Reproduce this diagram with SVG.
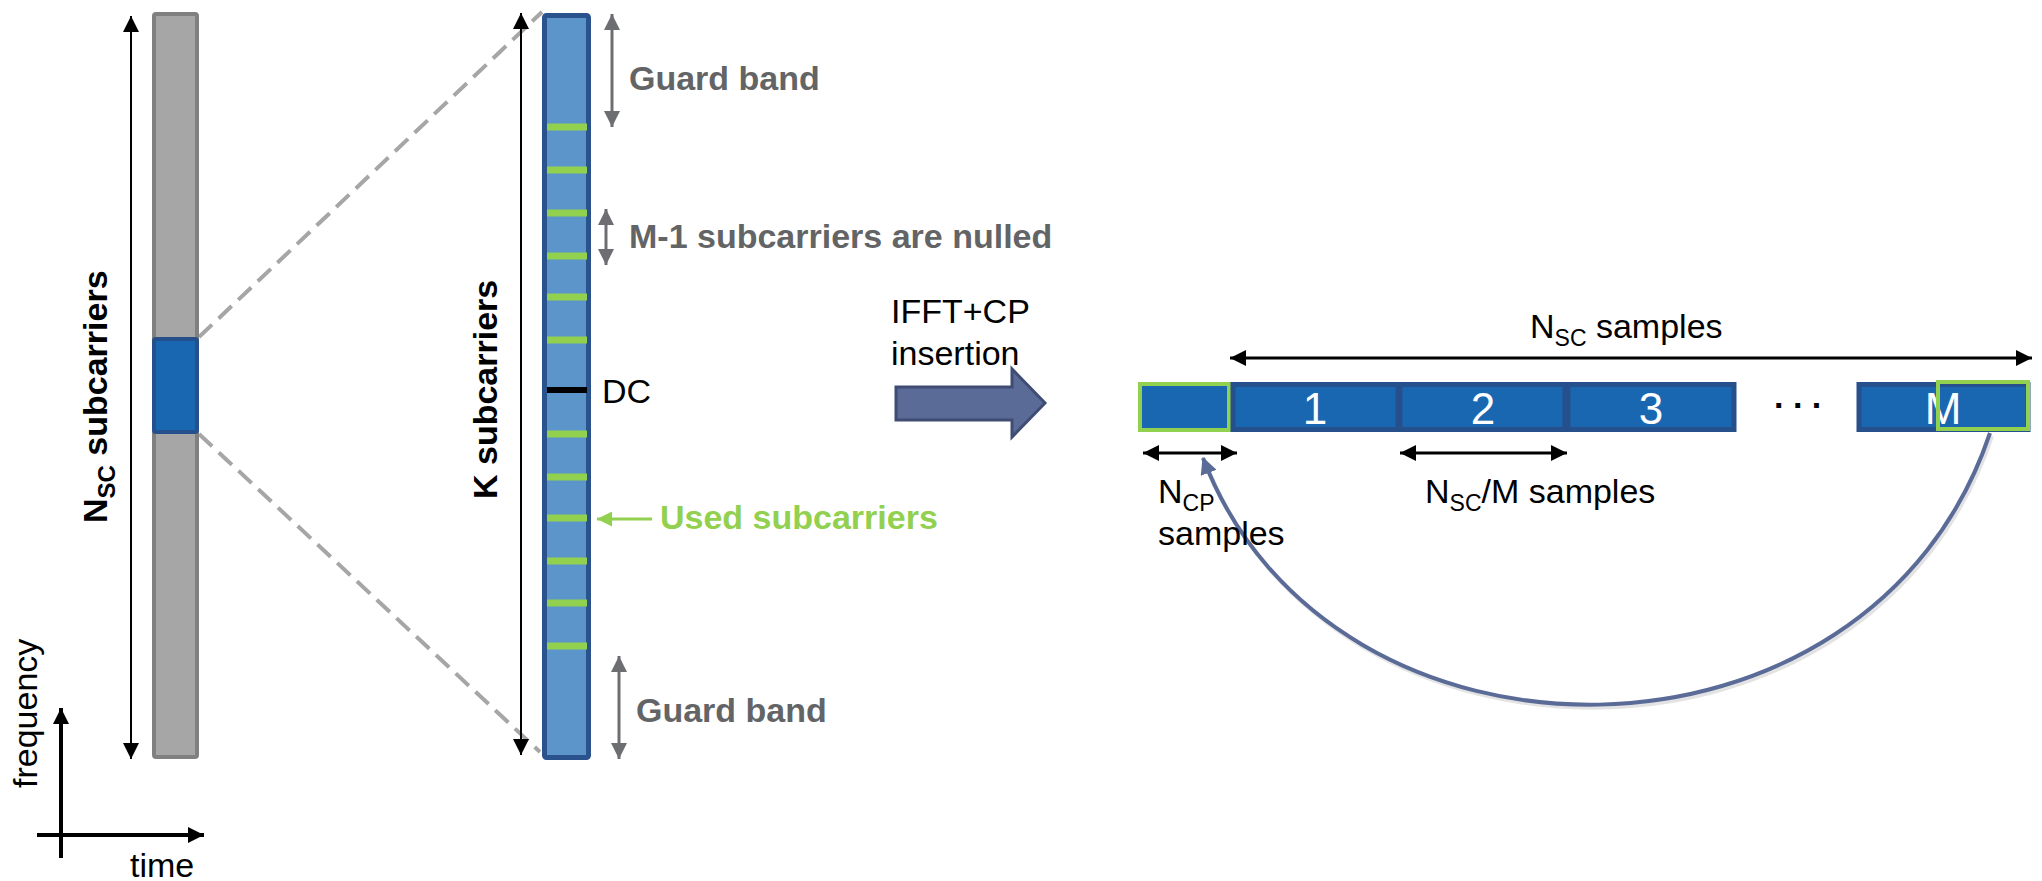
<svg xmlns="http://www.w3.org/2000/svg" width="2042" height="881" viewBox="0 0 2042 881">
<defs>
<style>
text{font-family:"Liberation Sans",Arial,Helvetica,sans-serif;}
.lbl{font-size:34px;fill:#000;}
.bold{font-weight:bold;}
.gray{fill:#636466;font-weight:bold;font-size:34px;}
.green{fill:#92d050;font-weight:bold;font-size:34px;}
.num{font-size:44px;fill:#fff;text-anchor:middle;}
.sc{stroke:#92d050;stroke-width:7;}
.blk{fill:#1a67b1;stroke:#25508c;stroke-width:5;}
.cpbox{fill:#1a67b1;stroke:#92d050;stroke-width:4;}
.dash{stroke:#a6a6a6;stroke-width:4;stroke-dasharray:18 9;fill:none;}
.blk-line{stroke:#000;stroke-width:2;fill:none;}
.blk-line3{stroke:#000;stroke-width:3;fill:none;}
.gray-line{stroke:#6d6e71;stroke-width:3;fill:none;}
</style>
<marker id="ahB" markerUnits="userSpaceOnUse" viewBox="0 0 16 16" refX="16" refY="8" markerWidth="16" markerHeight="16" orient="auto-start-reverse"><path d="M0,0 L16,8 L0,16 z" fill="#000"/></marker>
<marker id="ahG" markerUnits="userSpaceOnUse" viewBox="0 0 16 16" refX="16" refY="8" markerWidth="16" markerHeight="16" orient="auto-start-reverse"><path d="M0,0 L16,8 L0,16 z" fill="#6d6e71"/></marker>
<marker id="ahL" markerUnits="userSpaceOnUse" viewBox="0 0 16 16" refX="16" refY="8" markerWidth="15" markerHeight="15" orient="auto-start-reverse"><path d="M0,0 L16,8 L0,16 z" fill="#92d050"/></marker>
<marker id="ahS" markerUnits="userSpaceOnUse" viewBox="0 0 16 16" refX="15" refY="8" markerWidth="17" markerHeight="17" orient="auto"><path d="M0,0 L16,8 L0,16 z" fill="#5b6b98"/></marker>
</defs>
<rect width="2042" height="881" fill="#fff"/>

<!-- connectors -->
<g id="connectors">
  <line class="dash" x1="199" y1="337" x2="542" y2="12"/>
  <line class="dash" x1="199" y1="434" x2="540" y2="752"/>
  <line class="blk-line" x1="131" y1="16" x2="131" y2="759" marker-start="url(#ahB)" marker-end="url(#ahB)"/>
  <line class="blk-line" x1="521" y1="13" x2="521" y2="755" marker-start="url(#ahB)" marker-end="url(#ahB)"/>
  <line stroke="#000" stroke-width="4" x1="61" y1="858" x2="61" y2="708" marker-end="url(#ahB)"/>
  <line stroke="#000" stroke-width="4" x1="37" y1="835" x2="204" y2="835" marker-end="url(#ahB)"/>
  <line class="gray-line" x1="612" y1="14" x2="612" y2="127" marker-start="url(#ahG)" marker-end="url(#ahG)"/>
  <line class="gray-line" x1="606" y1="209" x2="606" y2="265" marker-start="url(#ahG)" marker-end="url(#ahG)"/>
  <line class="gray-line" x1="619" y1="656" x2="619" y2="759" marker-start="url(#ahG)" marker-end="url(#ahG)"/>
  <line stroke="#92d050" stroke-width="3" x1="652" y1="519" x2="597" y2="519" marker-end="url(#ahL)"/>
  <line class="blk-line3" x1="1230" y1="358" x2="2032" y2="358" marker-start="url(#ahB)" marker-end="url(#ahB)"/>
  <line class="blk-line3" x1="1143" y1="453" x2="1237" y2="453" marker-start="url(#ahB)" marker-end="url(#ahB)"/>
  <line class="blk-line3" x1="1400" y1="453" x2="1567" y2="453" marker-start="url(#ahB)" marker-end="url(#ahB)"/>
  <path d="M1992,436 C1872,794 1332,794 1205,461" fill="none" stroke="#d0d0d0" stroke-width="4" opacity="0.6"/>
  <path d="M1990,433 C1870,791 1330,791 1203,458" fill="none" stroke="#5b6b98" stroke-width="4" marker-end="url(#ahS)"/>
  <polygon id="ifft-arrow" points="896,387 1012,387 1012,369 1045,403 1012,437 1012,420 896,420" fill="#5b6b97" stroke="#3f4d75" stroke-width="3"/>
</g>

<!-- left gray bar with highlighted block -->
<g id="nsc-bar">
  <rect x="154" y="14" width="43" height="743" rx="2" fill="#a6a6a6" stroke="#808080" stroke-width="4"/>
  <rect x="154" y="339" width="43" height="93" rx="2" fill="#1a67b1" stroke="#25508c" stroke-width="4"/>
</g>
<g id="nsc-label">
  <text class="lbl bold" transform="translate(107,523) rotate(-90)">N<tspan font-size="24" dy="8">SC</tspan><tspan dy="-8"> subcarriers</tspan></text>
</g>

<!-- K subcarriers bar -->
<g id="k-bar">
  <rect x="544.5" y="15.5" width="44" height="742" rx="2" fill="#5b95c9" stroke="#2a528c" stroke-width="5"/>
  <line class="sc" x1="547" y1="127" x2="587" y2="127"/>
  <line class="sc" x1="547" y1="170" x2="587" y2="170"/>
  <line class="sc" x1="547" y1="213" x2="587" y2="213"/>
  <line class="sc" x1="547" y1="256" x2="587" y2="256"/>
  <line class="sc" x1="547" y1="297" x2="587" y2="297"/>
  <line class="sc" x1="547" y1="340" x2="587" y2="340"/>
  <line stroke="#000" stroke-width="6" x1="547" y1="390" x2="587" y2="390"/>
  <line class="sc" x1="547" y1="434" x2="587" y2="434"/>
  <line class="sc" x1="547" y1="477" x2="587" y2="477"/>
  <line class="sc" x1="547" y1="518" x2="587" y2="518"/>
  <line class="sc" x1="547" y1="561" x2="587" y2="561"/>
  <line class="sc" x1="547" y1="603" x2="587" y2="603"/>
  <line class="sc" x1="547" y1="646" x2="587" y2="646"/>
</g>
<g id="k-label">
  <text class="lbl bold" transform="translate(497,499) rotate(-90)">K subcarriers</text>
</g>

<g id="labels-kbar">
  <text class="gray" x="629" y="90">Guard band</text>
  <text class="gray" x="629" y="248">M-1 subcarriers are nulled</text>
  <text class="lbl" x="602" y="403">DC</text>
  <text class="green" x="660" y="529">Used subcarriers</text>
  <text class="gray" x="636" y="722">Guard band</text>
</g>

<g id="axes-labels">
  <text class="lbl" transform="translate(37,788) rotate(-90)">frequency</text>
  <text class="lbl" x="130" y="877">time</text>
</g>

<g id="ifft-label">
  <text class="lbl" x="891" y="323">IFFT+CP</text>
  <text class="lbl" x="891" y="365">insertion</text>
</g>

<!-- OFDM symbol blocks -->
<g id="cp-block">
  <rect class="cpbox" x="1140" y="384" width="89" height="46"/>
</g>
<g id="block-1">
  <rect class="blk" x="1233" y="384.5" width="165" height="45"/>
  <text class="num" x="1315" y="424">1</text>
</g>
<g id="block-2">
  <rect class="blk" x="1400" y="384.5" width="165" height="45"/>
  <text class="num" x="1483" y="424">2</text>
</g>
<g id="block-3">
  <rect class="blk" x="1568" y="384.5" width="166" height="45"/>
  <text class="num" x="1651" y="424">3</text>
</g>
<g id="dots">
  <text class="lbl bold" x="1774" y="408" font-size="36">. . .</text>
</g>
<g id="block-M">
  <rect class="blk" x="1859" y="384.5" width="169" height="45"/>
  <text class="num" x="1943" y="424">M</text>
  <rect x="1938" y="382" width="90" height="47" fill="none" stroke="#92d050" stroke-width="4"/>
</g>

<g id="sample-labels">
  <text class="lbl" x="1530" y="338">N<tspan font-size="23" dy="8">SC</tspan><tspan dy="-8"> samples</tspan></text>
  <text class="lbl" x="1158" y="503">N<tspan font-size="23" dy="8">CP</tspan></text>
  <text class="lbl" x="1158" y="545">samples</text>
  <text class="lbl" x="1425" y="503">N<tspan font-size="23" dy="8">SC</tspan><tspan dy="-8">/M samples</tspan></text>
</g>
</svg>
